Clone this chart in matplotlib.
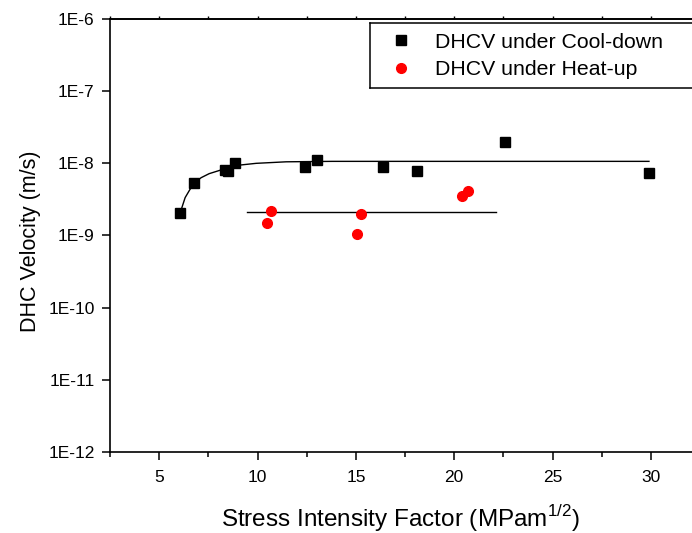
#!/usr/bin/env python3
import math
import matplotlib
matplotlib.use('Agg')
import matplotlib.pyplot as plt
from matplotlib.lines import Line2D
from matplotlib.ticker import FixedLocator, FuncFormatter

plt.rcParams['font.family'] = ['Liberation Sans', 'DejaVu Sans']

# cool-down data (black squares)
k_cool = [6.07, 6.78, 8.35, 8.5, 8.86, 12.39, 13.0, 16.39, 18.1, 22.59, 29.9]
v_cool = [2.07e-9, 5.4e-9, 8.1e-9, 7.9e-9, 1.0e-8, 9.0e-9, 1.11e-8, 8.8e-9, 7.8e-9, 1.95e-8, 7.3e-9]

# heat-up data (red circles)
k_heat = [10.47, 10.68, 15.08, 15.27, 20.39, 20.71]
v_heat = [1.5e-9, 2.19e-9, 1.05e-9, 2.0e-9, 3.5e-9, 4.2e-9]

# fitted curve for cool-down
k_fit = [6.07, 6.32, 6.53, 6.78, 7.14, 7.54, 8.36, 9.07, 9.93, 11.46, 13.8, 29.9]
v_fit = [2.07e-9, 3.35e-9, 4.19e-9, 5.41e-9, 6.34e-9, 7.19e-9, 8.45e-9, 9.44e-9,
         1.0e-8, 1.05e-8, 1.065e-8, 1.065e-8]

# mean line for heat-up
k_mean = [9.46, 22.12]
v_mean = [2.14e-9, 2.14e-9]

fig = plt.figure(figsize=(6.92, 5.33), dpi=100)
W, H = 692, 533
# axes runs off the right edge in the original; stop it at the figure edge
ax = fig.add_axes([110 / W, 1 - 452 / H, 582 / W, 433 / H])

ax.plot(k_fit, v_fit, color='black', lw=1.0)
ax.plot(k_mean, v_mean, color='black', lw=1.0)
ax.plot(k_cool, v_cool, 's', color='black', ms=6.5, ls='none',
        label='DHCV under Cool-down')
ax.plot(k_heat, v_heat, 'o', color='red', ms=7, ls='none',
        label='DHCV under Heat-up')

ax.set_yscale('log')
ax.set_ylim(1e-12, 1e-6)
ax.set_xlim(2.5, 2.5 + 582 / 19.67)

yt = [1e-12, 1e-11, 1e-10, 1e-9, 1e-8, 1e-7, 1e-6]
ax.yaxis.set_major_locator(FixedLocator(yt))
ax.yaxis.set_minor_locator(FixedLocator([]))
ax.yaxis.set_major_formatter(FuncFormatter(lambda v, p: '1E%d' % round(math.log10(v))))
xmaj = [5, 10, 15, 20, 25, 30]
xmin = [2.5, 7.5, 12.5, 17.5, 22.5, 27.5]
ax.xaxis.set_major_locator(FixedLocator(xmaj))
ax.xaxis.set_minor_locator(FixedLocator(xmin))

for s in ax.spines.values():
    s.set_linewidth(1.2)
ax.spines['right'].set_visible(False)

ax.tick_params(axis='both', which='major', direction='out', length=6, width=1.1,
               labelsize=12.5, pad=5)
ax.tick_params(axis='x', which='minor', direction='out', length=3.5, width=1.1)
ax.tick_params(axis='x', which='major', pad=7)

# short ticks on the top edge
top = ax.secondary_xaxis('top')
top.xaxis.set_major_locator(FixedLocator(xmaj + xmin))
top.tick_params(direction='out', length=2, width=1.0, labeltop=False)
top.spines['top'].set_linewidth(1.2)

ax.set_xlabel('Stress Intensity Factor (MPam$^{\\mathregular{1/2}}$)', fontsize=17.5, labelpad=13)
ax.set_ylabel('DHC Velocity (m/s)', fontsize=15.5)
ax.yaxis.set_label_coords(-0.119, 1 - (241.5 - 19) / 433)

leg = ax.legend(loc='upper left', bbox_to_anchor=(370 / W, 1 - 23.3 / H),
                bbox_transform=fig.transFigure, borderaxespad=0, fontsize=15.3,
                frameon=False, handletextpad=0.6,
                borderpad=0.45, labelspacing=0.4, handlelength=2.0)

# legend box: open on the right, it runs off the figure in the original
bx0, by0, by1 = 370 / W, 1 - 87.7 / H, 1 - 23.3 / H
for xs, ys in [([bx0, 1.0], [by1, by1]), ([bx0, 1.0], [by0, by0]), ([bx0, bx0], [by0, by1])]:
    fig.add_artist(Line2D(xs, ys, transform=fig.transFigure, color='black', lw=1.1))

fig.savefig('out.png', dpi=100)
